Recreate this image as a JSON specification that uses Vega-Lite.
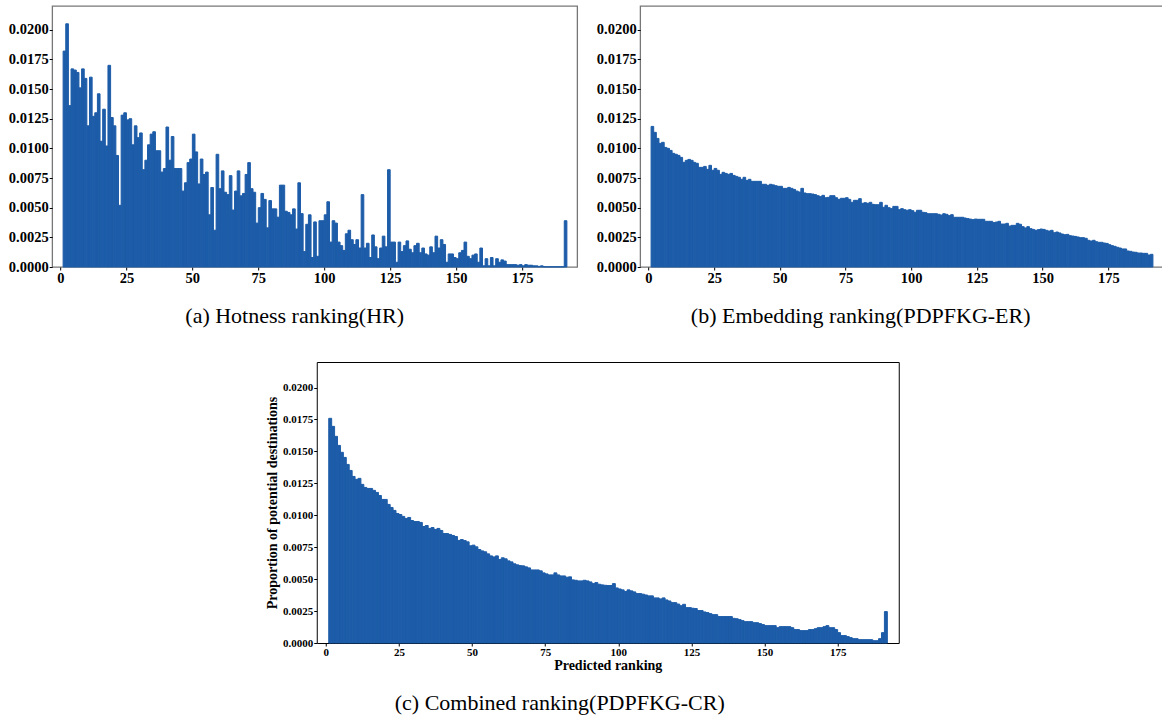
{
"$schema": "https://vega.github.io/schema/vega-lite/v6.json",
"background": "white",
"padding": {"left": 7, "top": 5, "right": 0, "bottom": 0},
"center": true,
"spacing": 33,
"config": {
  "view": {"stroke": "#777", "strokeWidth": 1.3},
  "axis": {"grid": false, "domain": false, "labelFont": "Liberation Serif", "labelFontWeight": "bold", "labelColor": "#000", "tickColor": "#000", "tickSize": 3, "tickWidth": 1, "labelPadding": 1, "titleFont": "Liberation Serif", "titleFontWeight": "bold", "titleColor": "#000", "labelFlush": false, "labelOverlap": false},
  "title": {"font": "Liberation Serif", "fontWeight": "normal", "fontSize": 22, "color": "#000", "orient": "bottom", "anchor": "middle", "frame": "group"}
},
"datasets": {
"a": [
{"r":1,"e":2,"v":0.0182},{"r":2,"e":3,"v":0.0205},{"r":3,"e":4,"v":0.0136},{"r":4,"e":5,"v":0.0167},{"r":5,"e":6,"v":0.0166},{"r":6,"e":7,"v":0.0164},{"r":7,"e":8,"v":0.0151},{"r":8,"e":9,"v":0.0167},{"r":9,"e":10,"v":0.0159},{"r":10,"e":11,"v":0.0119},
{"r":11,"e":12,"v":0.016},{"r":12,"e":13,"v":0.0127},{"r":13,"e":14,"v":0.013},{"r":14,"e":15,"v":0.0146},{"r":15,"e":16,"v":0.0106},{"r":16,"e":17,"v":0.0133},{"r":17,"e":18,"v":0.0102},{"r":18,"e":19,"v":0.017},{"r":19,"e":20,"v":0.0126},{"r":20,"e":21,"v":0.0119},
{"r":21,"e":22,"v":0.0094},{"r":22,"e":23,"v":0.0052},{"r":23,"e":24,"v":0.0128},{"r":24,"e":25,"v":0.013},{"r":25,"e":26,"v":0.0124},{"r":26,"e":27,"v":0.0125},{"r":27,"e":28,"v":0.0103},{"r":28,"e":29,"v":0.0119},{"r":29,"e":30,"v":0.0109},{"r":30,"e":31,"v":0.0113},
{"r":31,"e":32,"v":0.0082},{"r":32,"e":33,"v":0.009},{"r":33,"e":34,"v":0.0103},{"r":34,"e":35,"v":0.0112},{"r":35,"e":36,"v":0.0114},{"r":36,"e":37,"v":0.0098},{"r":37,"e":38,"v":0.0098},{"r":38,"e":39,"v":0.008},{"r":39,"e":40,"v":0.0083},{"r":40,"e":41,"v":0.0118},
{"r":41,"e":42,"v":0.009},{"r":42,"e":43,"v":0.011},{"r":43,"e":44,"v":0.0083},{"r":44,"e":45,"v":0.0083},{"r":45,"e":46,"v":0.0083},{"r":46,"e":47,"v":0.0064},{"r":47,"e":48,"v":0.0071},{"r":48,"e":49,"v":0.0088},{"r":49,"e":50,"v":0.0091},{"r":50,"e":51,"v":0.0112},
{"r":51,"e":52,"v":0.0097},{"r":52,"e":53,"v":0.007},{"r":53,"e":54,"v":0.0091},{"r":54,"e":55,"v":0.0078},{"r":55,"e":56,"v":0.008},{"r":56,"e":57,"v":0.0044},{"r":57,"e":58,"v":0.0067},{"r":58,"e":59,"v":0.0031},{"r":59,"e":60,"v":0.0095},{"r":60,"e":61,"v":0.0066},
{"r":61,"e":62,"v":0.0081},{"r":62,"e":63,"v":0.0063},{"r":63,"e":64,"v":0.0061},{"r":64,"e":65,"v":0.0077},{"r":65,"e":66,"v":0.0048},{"r":66,"e":67,"v":0.0064},{"r":67,"e":68,"v":0.0081},{"r":68,"e":69,"v":0.006},{"r":69,"e":70,"v":0.0062},{"r":70,"e":71,"v":0.0078},
{"r":71,"e":72,"v":0.0088},{"r":72,"e":73,"v":0.0066},{"r":73,"e":74,"v":0.0063},{"r":74,"e":75,"v":0.0037},{"r":75,"e":76,"v":0.005},{"r":76,"e":77,"v":0.0062},{"r":77,"e":78,"v":0.0057},{"r":78,"e":79,"v":0.0033},{"r":79,"e":80,"v":0.0056},{"r":80,"e":81,"v":0.0049},
{"r":81,"e":82,"v":0.0049},{"r":82,"e":83,"v":0.0042},{"r":83,"e":84,"v":0.0069},{"r":84,"e":85,"v":0.0069},{"r":85,"e":86,"v":0.0047},{"r":86,"e":87,"v":0.0046},{"r":87,"e":88,"v":0.0044},{"r":88,"e":89,"v":0.0049},{"r":89,"e":90,"v":0.0032},{"r":90,"e":91,"v":0.0071},
{"r":91,"e":92,"v":0.0045},{"r":92,"e":93,"v":0.0013},{"r":93,"e":94,"v":0.0036},{"r":94,"e":95,"v":0.0044},{"r":95,"e":96,"v":0.0008},{"r":96,"e":97,"v":0.0038},{"r":97,"e":98,"v":0.0009},{"r":98,"e":99,"v":0.0039},{"r":99,"e":100,"v":0.0039},{"r":100,"e":101,"v":0.0044},
{"r":101,"e":102,"v":0.0055},{"r":102,"e":103,"v":0.0021},{"r":103,"e":104,"v":0.0039},{"r":104,"e":105,"v":0.0037},{"r":105,"e":106,"v":0.0021},{"r":106,"e":107,"v":0.0018},{"r":107,"e":108,"v":0.0014},{"r":108,"e":109,"v":0.0028},{"r":109,"e":110,"v":0.0031},{"r":110,"e":111,"v":0.0023},
{"r":111,"e":112,"v":0.0019},{"r":112,"e":113,"v":0.0023},{"r":113,"e":114,"v":0.0016},{"r":114,"e":115,"v":0.0061},{"r":115,"e":116,"v":0.0016},{"r":116,"e":117,"v":0.002},{"r":117,"e":118,"v":0.0008},{"r":118,"e":119,"v":0.0027},{"r":119,"e":120,"v":0.0017},{"r":120,"e":121,"v":0.0007},
{"r":121,"e":122,"v":0.0016},{"r":122,"e":123,"v":0.0026},{"r":123,"e":124,"v":0.0017},{"r":124,"e":125,"v":0.0082},{"r":125,"e":126,"v":0.0021},{"r":126,"e":127,"v":0.0021},{"r":127,"e":128,"v":0.0004},{"r":128,"e":129,"v":0.0021},{"r":129,"e":130,"v":0.0013},{"r":130,"e":131,"v":0.0018},
{"r":131,"e":132,"v":0.0022},{"r":132,"e":133,"v":0.0015},{"r":133,"e":134,"v":0.0012},{"r":134,"e":135,"v":0.0018},{"r":135,"e":136,"v":0.002},{"r":136,"e":137,"v":0.0012},{"r":137,"e":138,"v":0.0016},{"r":138,"e":139,"v":0.0011},{"r":139,"e":140,"v":0.001},{"r":140,"e":141,"v":0.0017},
{"r":141,"e":142,"v":0.0012},{"r":142,"e":143,"v":0.0026},{"r":143,"e":144,"v":0.0016},{"r":144,"e":145,"v":0.0023},{"r":145,"e":146,"v":0.0019},{"r":146,"e":147,"v":0.0004},{"r":147,"e":148,"v":0.0011},{"r":148,"e":149,"v":0.0011},{"r":149,"e":150,"v":0.0008},{"r":150,"e":151,"v":0.0007},
{"r":151,"e":152,"v":0.0012},{"r":152,"e":153,"v":0.0014},{"r":153,"e":154,"v":0.0021},{"r":154,"e":155,"v":0.0009},{"r":155,"e":156,"v":0.0007},{"r":156,"e":157,"v":0.001},{"r":157,"e":158,"v":0.0011},{"r":158,"e":159,"v":0.0004},{"r":159,"e":160,"v":0.0016},{"r":160,"e":161,"v":0.0001},
{"r":161,"e":162,"v":0.0007},{"r":162,"e":163,"v":0.0001},{"r":163,"e":164,"v":0.0008},{"r":164,"e":165,"v":0.0001},{"r":165,"e":166,"v":0.0007},{"r":166,"e":167,"v":0.0004},{"r":167,"e":168,"v":0.0006},{"r":168,"e":169,"v":0.0005},{"r":169,"e":170,"v":0.0002},{"r":170,"e":171,"v":0.0002},
{"r":171,"e":172,"v":0.0002},{"r":172,"e":173,"v":0.0002},{"r":173,"e":174,"v":0.00015},{"r":174,"e":175,"v":0.0002},{"r":175,"e":176,"v":0.0001},{"r":176,"e":177,"v":0.0002},{"r":177,"e":178,"v":0.00015},{"r":178,"e":179,"v":0.00015},{"r":179,"e":180,"v":0.0001},{"r":180,"e":181,"v":0.0001},
{"r":181,"e":182,"v":0.00005},{"r":182,"e":183,"v":0.0001},{"r":183,"e":184,"v":0.00003},{"r":184,"e":185,"v":0.00002},{"r":185,"e":186,"v":0.00002},{"r":186,"e":187,"v":0.00002},{"r":187,"e":188,"v":0.00002},{"r":188,"e":189,"v":0.00002},{"r":189,"e":190,"v":0.00002},{"r":190,"e":191,"v":0.00002},
{"r":191,"e":192,"v":0.0039}
],
"b": [
{"r":1,"e":2,"v":0.01185},{"r":2,"e":3,"v":0.01135},{"r":3,"e":4,"v":0.01084},{"r":4,"e":5,"v":0.01042},{"r":5,"e":6,"v":0.01051},{"r":6,"e":7,"v":0.01008},{"r":7,"e":8,"v":0.01},{"r":8,"e":9,"v":0.00983},{"r":9,"e":10,"v":0.00958},{"r":10,"e":11,"v":0.0095},
{"r":11,"e":12,"v":0.00941},{"r":12,"e":13,"v":0.00924},{"r":13,"e":14,"v":0.00882},{"r":14,"e":15,"v":0.00899},{"r":15,"e":16,"v":0.00907},{"r":16,"e":17,"v":0.00899},{"r":17,"e":18,"v":0.00882},{"r":18,"e":19,"v":0.00874},{"r":19,"e":20,"v":0.0084},{"r":20,"e":21,"v":0.0084},
{"r":21,"e":22,"v":0.00848},{"r":22,"e":23,"v":0.00823},{"r":23,"e":24,"v":0.00857},{"r":24,"e":25,"v":0.00815},{"r":25,"e":26,"v":0.00831},{"r":26,"e":27,"v":0.00815},{"r":27,"e":28,"v":0.00781},{"r":28,"e":29,"v":0.00798},{"r":29,"e":30,"v":0.00789},{"r":30,"e":31,"v":0.00781},
{"r":31,"e":32,"v":0.00789},{"r":32,"e":33,"v":0.00772},{"r":33,"e":34,"v":0.00764},{"r":34,"e":35,"v":0.00756},{"r":35,"e":36,"v":0.00739},{"r":36,"e":37,"v":0.00756},{"r":37,"e":38,"v":0.0073},{"r":38,"e":39,"v":0.00739},{"r":39,"e":40,"v":0.00722},{"r":40,"e":41,"v":0.00722},
{"r":41,"e":42,"v":0.00722},{"r":42,"e":43,"v":0.00722},{"r":43,"e":44,"v":0.00697},{"r":44,"e":45,"v":0.00697},{"r":45,"e":46,"v":0.00688},{"r":46,"e":47,"v":0.00697},{"r":47,"e":48,"v":0.00692},{"r":48,"e":49,"v":0.00685},{"r":49,"e":50,"v":0.0068},{"r":50,"e":51,"v":0.0068},
{"r":51,"e":52,"v":0.00663},{"r":52,"e":53,"v":0.00663},{"r":53,"e":54,"v":0.00671},{"r":54,"e":55,"v":0.00663},{"r":55,"e":56,"v":0.00654},{"r":56,"e":57,"v":0.0064},{"r":57,"e":58,"v":0.00632},{"r":58,"e":59,"v":0.00663},{"r":59,"e":60,"v":0.00624},{"r":60,"e":61,"v":0.00618},
{"r":61,"e":62,"v":0.00618},{"r":62,"e":63,"v":0.00615},{"r":63,"e":64,"v":0.0061},{"r":64,"e":65,"v":0.00601},{"r":65,"e":66,"v":0.00593},{"r":66,"e":67,"v":0.00604},{"r":67,"e":68,"v":0.00584},{"r":68,"e":69,"v":0.00587},{"r":69,"e":70,"v":0.00601},{"r":70,"e":71,"v":0.00601},
{"r":71,"e":72,"v":0.00584},{"r":72,"e":73,"v":0.0057},{"r":73,"e":74,"v":0.00579},{"r":74,"e":75,"v":0.00579},{"r":75,"e":76,"v":0.00584},{"r":76,"e":77,"v":0.0057},{"r":77,"e":78,"v":0.00545},{"r":78,"e":79,"v":0.00562},{"r":79,"e":80,"v":0.00562},{"r":80,"e":81,"v":0.00576},
{"r":81,"e":82,"v":0.00537},{"r":82,"e":83,"v":0.00542},{"r":83,"e":84,"v":0.00537},{"r":84,"e":85,"v":0.00545},{"r":85,"e":86,"v":0.00528},{"r":86,"e":87,"v":0.00525},{"r":87,"e":88,"v":0.00525},{"r":88,"e":89,"v":0.00545},{"r":89,"e":90,"v":0.00503},{"r":90,"e":91,"v":0.0052},
{"r":91,"e":92,"v":0.005},{"r":92,"e":93,"v":0.00492},{"r":93,"e":94,"v":0.00511},{"r":94,"e":95,"v":0.00511},{"r":95,"e":96,"v":0.00483},{"r":96,"e":97,"v":0.00492},{"r":97,"e":98,"v":0.00483},{"r":98,"e":99,"v":0.00478},{"r":99,"e":100,"v":0.00483},{"r":100,"e":101,"v":0.00475},
{"r":101,"e":102,"v":0.00461},{"r":102,"e":103,"v":0.00478},{"r":103,"e":104,"v":0.00478},{"r":104,"e":105,"v":0.00461},{"r":105,"e":106,"v":0.00458},{"r":106,"e":107,"v":0.00449},{"r":107,"e":108,"v":0.00449},{"r":108,"e":109,"v":0.00449},{"r":109,"e":110,"v":0.00449},{"r":110,"e":111,"v":0.00444},
{"r":111,"e":112,"v":0.00438},{"r":112,"e":113,"v":0.00449},{"r":113,"e":114,"v":0.00444},{"r":114,"e":115,"v":0.00433},{"r":115,"e":116,"v":0.00441},{"r":116,"e":117,"v":0.00419},{"r":117,"e":118,"v":0.00419},{"r":118,"e":119,"v":0.00419},{"r":119,"e":120,"v":0.00419},{"r":120,"e":121,"v":0.00413},
{"r":121,"e":122,"v":0.00408},{"r":122,"e":123,"v":0.00404},{"r":123,"e":124,"v":0.00399},{"r":124,"e":125,"v":0.00404},{"r":125,"e":126,"v":0.00402},{"r":126,"e":127,"v":0.00402},{"r":127,"e":128,"v":0.00402},{"r":128,"e":129,"v":0.00385},{"r":129,"e":130,"v":0.00385},{"r":130,"e":131,"v":0.00385},
{"r":131,"e":132,"v":0.00374},{"r":132,"e":133,"v":0.00379},{"r":133,"e":134,"v":0.00385},{"r":134,"e":135,"v":0.00362},{"r":135,"e":136,"v":0.00362},{"r":136,"e":137,"v":0.00368},{"r":137,"e":138,"v":0.00345},{"r":138,"e":139,"v":0.00351},{"r":139,"e":140,"v":0.00351},{"r":140,"e":141,"v":0.00368},
{"r":141,"e":142,"v":0.0036},{"r":142,"e":143,"v":0.0034},{"r":143,"e":144,"v":0.00329},{"r":144,"e":145,"v":0.0034},{"r":145,"e":146,"v":0.00323},{"r":146,"e":147,"v":0.00317},{"r":147,"e":148,"v":0.00309},{"r":148,"e":149,"v":0.00315},{"r":149,"e":150,"v":0.0032},{"r":150,"e":151,"v":0.00317},
{"r":151,"e":152,"v":0.00309},{"r":152,"e":153,"v":0.00303},{"r":153,"e":154,"v":0.00309},{"r":154,"e":155,"v":0.00289},{"r":155,"e":156,"v":0.00295},{"r":156,"e":157,"v":0.00287},{"r":157,"e":158,"v":0.00278},{"r":158,"e":159,"v":0.00272},{"r":159,"e":160,"v":0.00275},{"r":160,"e":161,"v":0.00264},
{"r":161,"e":162,"v":0.00261},{"r":162,"e":163,"v":0.00258},{"r":163,"e":164,"v":0.00253},{"r":164,"e":165,"v":0.00247},{"r":165,"e":166,"v":0.00247},{"r":166,"e":167,"v":0.00242},{"r":167,"e":168,"v":0.00225},{"r":168,"e":169,"v":0.00219},{"r":169,"e":170,"v":0.00225},{"r":170,"e":171,"v":0.00213},
{"r":171,"e":172,"v":0.00208},{"r":172,"e":173,"v":0.00208},{"r":173,"e":174,"v":0.00202},{"r":174,"e":175,"v":0.00199},{"r":175,"e":176,"v":0.00188},{"r":176,"e":177,"v":0.0018},{"r":177,"e":178,"v":0.00174},{"r":178,"e":179,"v":0.00166},{"r":179,"e":180,"v":0.0016},{"r":180,"e":181,"v":0.00152},
{"r":181,"e":182,"v":0.00152},{"r":182,"e":183,"v":0.00135},{"r":183,"e":184,"v":0.00132},{"r":184,"e":185,"v":0.00126},{"r":185,"e":186,"v":0.00124},{"r":186,"e":187,"v":0.00118},{"r":187,"e":188,"v":0.00118},{"r":188,"e":189,"v":0.00115},{"r":189,"e":190,"v":0.00115},{"r":190,"e":191,"v":0.00101},
{"r":191,"e":192,"v":0.00107}
],
"c": [
{"r":1,"e":2,"v":0.01759},{"r":2,"e":3,"v":0.01696},{"r":3,"e":4,"v":0.01618},{"r":4,"e":5,"v":0.01547},{"r":5,"e":6,"v":0.01493},{"r":6,"e":7,"v":0.01453},{"r":7,"e":8,"v":0.01398},{"r":8,"e":9,"v":0.01351},{"r":9,"e":10,"v":0.01304},{"r":10,"e":11,"v":0.01281},
{"r":11,"e":12,"v":0.01289},{"r":12,"e":13,"v":0.01242},{"r":13,"e":14,"v":0.01218},{"r":14,"e":15,"v":0.0121},{"r":15,"e":16,"v":0.0121},{"r":16,"e":17,"v":0.01195},{"r":17,"e":18,"v":0.01179},{"r":18,"e":19,"v":0.01155},{"r":19,"e":20,"v":0.01124},{"r":20,"e":21,"v":0.01124},
{"r":21,"e":22,"v":0.01085},{"r":22,"e":23,"v":0.01061},{"r":23,"e":24,"v":0.01038},{"r":24,"e":25,"v":0.01014},{"r":25,"e":26,"v":0.01006},{"r":26,"e":27,"v":0.00991},{"r":27,"e":28,"v":0.00975},{"r":28,"e":29,"v":0.00983},{"r":29,"e":30,"v":0.00959},{"r":30,"e":31,"v":0.00951},
{"r":31,"e":32,"v":0.00951},{"r":32,"e":33,"v":0.00944},{"r":33,"e":34,"v":0.00912},{"r":34,"e":35,"v":0.0092},{"r":35,"e":36,"v":0.00897},{"r":36,"e":37,"v":0.00904},{"r":37,"e":38,"v":0.00889},{"r":38,"e":39,"v":0.00897},{"r":39,"e":40,"v":0.00881},{"r":40,"e":41,"v":0.00857},
{"r":41,"e":42,"v":0.00857},{"r":42,"e":43,"v":0.0085},{"r":43,"e":44,"v":0.00842},{"r":44,"e":45,"v":0.00834},{"r":45,"e":46,"v":0.00803},{"r":46,"e":47,"v":0.0081},{"r":47,"e":48,"v":0.00802},{"r":48,"e":49,"v":0.00792},{"r":49,"e":50,"v":0.00761},{"r":50,"e":51,"v":0.00766},
{"r":51,"e":52,"v":0.00753},{"r":52,"e":53,"v":0.00732},{"r":53,"e":54,"v":0.00721},{"r":54,"e":55,"v":0.00714},{"r":55,"e":56,"v":0.00698},{"r":56,"e":57,"v":0.00682},{"r":57,"e":58,"v":0.00674},{"r":58,"e":59,"v":0.00682},{"r":59,"e":60,"v":0.00654},{"r":60,"e":61,"v":0.00667},
{"r":61,"e":62,"v":0.00659},{"r":62,"e":63,"v":0.00643},{"r":63,"e":64,"v":0.00635},{"r":64,"e":65,"v":0.0062},{"r":65,"e":66,"v":0.00612},{"r":66,"e":67,"v":0.00606},{"r":67,"e":68,"v":0.00604},{"r":68,"e":69,"v":0.00596},{"r":69,"e":70,"v":0.00588},{"r":70,"e":71,"v":0.00572},
{"r":71,"e":72,"v":0.00572},{"r":72,"e":73,"v":0.00572},{"r":73,"e":74,"v":0.00565},{"r":74,"e":75,"v":0.00549},{"r":75,"e":76,"v":0.00541},{"r":76,"e":77,"v":0.00533},{"r":77,"e":78,"v":0.00533},{"r":78,"e":79,"v":0.00549},{"r":79,"e":80,"v":0.00533},{"r":80,"e":81,"v":0.00525},
{"r":81,"e":82,"v":0.00525},{"r":82,"e":83,"v":0.00515},{"r":83,"e":84,"v":0.00518},{"r":84,"e":85,"v":0.00494},{"r":85,"e":86,"v":0.00491},{"r":86,"e":87,"v":0.00486},{"r":87,"e":88,"v":0.00486},{"r":88,"e":89,"v":0.00491},{"r":89,"e":90,"v":0.00486},{"r":90,"e":91,"v":0.00478},
{"r":91,"e":92,"v":0.00465},{"r":92,"e":93,"v":0.00473},{"r":93,"e":94,"v":0.0046},{"r":94,"e":95,"v":0.00455},{"r":95,"e":96,"v":0.00452},{"r":96,"e":97,"v":0.0045},{"r":97,"e":98,"v":0.0045},{"r":98,"e":99,"v":0.00465},{"r":99,"e":100,"v":0.00431},{"r":100,"e":101,"v":0.00423},
{"r":101,"e":102,"v":0.00416},{"r":102,"e":103,"v":0.00403},{"r":103,"e":104,"v":0.00416},{"r":104,"e":105,"v":0.00408},{"r":105,"e":106,"v":0.004},{"r":106,"e":107,"v":0.00387},{"r":107,"e":108,"v":0.00387},{"r":108,"e":109,"v":0.00382},{"r":109,"e":110,"v":0.00376},{"r":110,"e":111,"v":0.00369},
{"r":111,"e":112,"v":0.00369},{"r":112,"e":113,"v":0.00353},{"r":113,"e":114,"v":0.00353},{"r":114,"e":115,"v":0.00345},{"r":115,"e":116,"v":0.00353},{"r":116,"e":117,"v":0.00337},{"r":117,"e":118,"v":0.00329},{"r":118,"e":119,"v":0.00316},{"r":119,"e":120,"v":0.00316},{"r":120,"e":121,"v":0.00305},
{"r":121,"e":122,"v":0.00292},{"r":122,"e":123,"v":0.00303},{"r":123,"e":124,"v":0.00277},{"r":124,"e":125,"v":0.00277},{"r":125,"e":126,"v":0.00272},{"r":126,"e":127,"v":0.0027},{"r":127,"e":128,"v":0.00254},{"r":128,"e":129,"v":0.00254},{"r":129,"e":130,"v":0.00243},{"r":130,"e":131,"v":0.00238},
{"r":131,"e":132,"v":0.0023},{"r":132,"e":133,"v":0.00222},{"r":133,"e":134,"v":0.00222},{"r":134,"e":135,"v":0.00207},{"r":135,"e":136,"v":0.00207},{"r":136,"e":137,"v":0.00207},{"r":137,"e":138,"v":0.00207},{"r":138,"e":139,"v":0.00207},{"r":139,"e":140,"v":0.00193},{"r":140,"e":141,"v":0.0019},
{"r":141,"e":142,"v":0.00183},{"r":142,"e":143,"v":0.00175},{"r":143,"e":144,"v":0.00167},{"r":144,"e":145,"v":0.00167},{"r":145,"e":146,"v":0.00167},{"r":146,"e":147,"v":0.00159},{"r":147,"e":148,"v":0.00159},{"r":148,"e":149,"v":0.00152},{"r":149,"e":150,"v":0.00144},{"r":150,"e":151,"v":0.00136},
{"r":151,"e":152,"v":0.00136},{"r":152,"e":153,"v":0.00136},{"r":153,"e":154,"v":0.00136},{"r":154,"e":155,"v":0.0012},{"r":155,"e":156,"v":0.00128},{"r":156,"e":157,"v":0.00128},{"r":157,"e":158,"v":0.00128},{"r":158,"e":159,"v":0.00128},{"r":159,"e":160,"v":0.0012},{"r":160,"e":161,"v":0.00105},
{"r":161,"e":162,"v":0.00105},{"r":162,"e":163,"v":0.00097},{"r":163,"e":164,"v":0.00097},{"r":164,"e":165,"v":0.00097},{"r":165,"e":166,"v":0.00105},{"r":166,"e":167,"v":0.00105},{"r":167,"e":168,"v":0.00112},{"r":168,"e":169,"v":0.0012},{"r":169,"e":170,"v":0.0012},{"r":170,"e":171,"v":0.00128},
{"r":171,"e":172,"v":0.00136},{"r":172,"e":173,"v":0.0012},{"r":173,"e":174,"v":0.0012},{"r":174,"e":175,"v":0.00105},{"r":175,"e":176,"v":0.00081},{"r":176,"e":177,"v":0.00058},{"r":177,"e":178,"v":0.00058},{"r":178,"e":179,"v":0.0005},{"r":179,"e":180,"v":0.00042},{"r":180,"e":181,"v":0.00034},
{"r":181,"e":182,"v":0.00034},{"r":182,"e":183,"v":0.00026},{"r":183,"e":184,"v":0.00026},{"r":184,"e":185,"v":0.00026},{"r":185,"e":186,"v":0.00026},{"r":186,"e":187,"v":0.00026},{"r":187,"e":188,"v":0.00018},{"r":188,"e":189,"v":0.00018},{"r":189,"e":190,"v":0.00034},{"r":190,"e":191,"v":0.00081},
{"r":191,"e":192,"v":0.00246}
]
},
"vconcat": [
{
  "hconcat": [
    {
      "width": 525, "height": 261,
      "data": {"name": "a"},
      "view": {"stroke": "#777", "strokeWidth": 1.3},
      "title": {"text": "(a) Hotness ranking(HR)", "dx": -20, "offset": 21},
      "mark": {"type": "bar", "color": "#1d5ca8", "stroke": "#1d5ca8", "strokeWidth": 1},
      "encoding": {
        "x": {"field": "r", "type": "quantitative", "scale": {"domain": [-3.15, 195.9], "nice": false, "zero": false}, "axis": {"values": [0,25,50,75,100,125,150,175], "title": null, "labelFontSize": 14.5}},
        "x2": {"field": "e"},
        "y": {"field": "v", "type": "quantitative", "scale": {"domain": [0, 0.022], "nice": false}, "axis": {"values": [0,0.0025,0.005,0.0075,0.01,0.0125,0.015,0.0175,0.02], "format": ".4f", "title": null, "labelFontSize": 14.5}},
        "y2": {"datum": 0}
      }
    },
    {
      "width": 523, "height": 261,
      "data": {"name": "b"},
      "view": {"stroke": "#777", "strokeWidth": 1.3},
      "title": {"text": "(b) Embedding ranking(PDPFKG-ER)", "dx": -41, "offset": 21},
      "mark": {"type": "bar", "color": "#1d5ca8", "stroke": "#1d5ca8", "strokeWidth": 1},
      "encoding": {
        "x": {"field": "r", "type": "quantitative", "scale": {"domain": [-3.15, 195.9], "nice": false, "zero": false}, "axis": {"values": [0,25,50,75,100,125,150,175], "title": null, "labelFontSize": 14.5}},
        "x2": {"field": "e"},
        "y": {"field": "v", "type": "quantitative", "scale": {"domain": [0, 0.022], "nice": false}, "axis": {"values": [0,0.0025,0.005,0.0075,0.01,0.0125,0.015,0.0175,0.02], "format": ".4f", "title": null, "labelFontSize": 14.5}},
        "y2": {"datum": 0}
      }
    }
  ],
  "spacing": 17
},
{
  "width": 582, "height": 281,
  "data": {"name": "c"},
  "view": {"stroke": "#000", "strokeWidth": 1},
  "title": {"text": "(c) Combined ranking(PDPFKG-CR)", "dx": -48, "offset": 21},
  "mark": {"type": "bar", "color": "#1d5ca8", "stroke": "#1d5ca8", "strokeWidth": 1},
  "encoding": {
    "x": {"field": "r", "type": "quantitative", "scale": {"domain": [-3.1, 195.9], "nice": false, "zero": false}, "axis": {"values": [0,25,50,75,100,125,150,175], "title": "Predicted ranking", "titleFontSize": 14, "titlePadding": 1, "labelFontSize": 11, "labelPadding": 0}},
    "x2": {"field": "e"},
    "y": {"field": "v", "type": "quantitative", "scale": {"domain": [0, 0.022], "nice": false}, "axis": {"values": [0,0.0025,0.005,0.0075,0.01,0.0125,0.015,0.0175,0.02], "format": ".4f", "title": "Proportion of potential destinations", "titleFontSize": 14, "titlePadding": 3, "labelFontSize": 11}},
    "y2": {"datum": 0}
  }
}
]
}
